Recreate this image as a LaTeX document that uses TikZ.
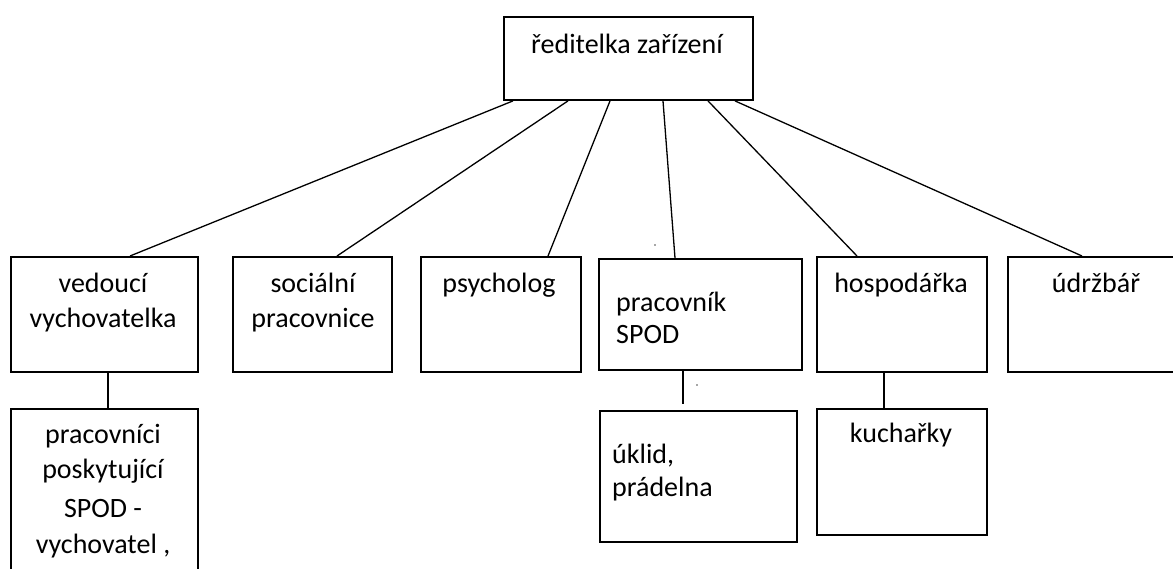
\documentclass[tikz,border=0pt]{standalone}
\usepackage{fontspec}
\setmainfont{Carlito}
\usetikzlibrary{calc}
\begin{document}
\begin{tikzpicture}[x=1pt,y=-1pt,
 box/.style={draw=black, line width=1.9pt, rectangle, inner sep=0pt, anchor=north west},
 conn/.style={draw=black, line width=1.3pt},
 txt/.style={inner sep=0pt, anchor=base, font=\fontsize{28}{35}\selectfont},
 txtl/.style={txt, anchor=base west},
 speck/.style={fill=black!70, circle, inner sep=0pt, minimum size=1.6pt}
 ]
\useasboundingbox (0,0) rectangle (1173,568);
\begin{scope}
\clip (0,0) rectangle (1173,568);
% boxes
\node[box, minimum width=249pt, minimum height=83pt] (top) at (503,16) {};
\node[box, minimum width=187pt, minimum height=115pt] (ved) at (10,256) {};
\node[box, minimum width=159pt, minimum height=115pt] (soc) at (232,256) {};
\node[box, minimum width=160pt, minimum height=115pt] (psy) at (420,256) {};
\node[box, minimum width=203pt, minimum height=111pt] (spod) at (598,258) {};
\node[box, minimum width=170pt, minimum height=115pt] (hosp) at (816,256) {};
\node[box, minimum width=200pt, minimum height=115pt] (udr) at (1007,256) {};
\node[box, minimum width=187pt, minimum height=200pt] (prac) at (10,408) {};
\node[box, minimum width=197pt, minimum height=131pt] (ukl) at (599,410) {};
\node[box, minimum width=170pt, minimum height=126pt] (kuch) at (816,408) {};
% connectors
\draw[conn] ($(top.south west)+(10,0)$) -- ($(ved.north west)+(120,0)$);
\draw[conn] ($(top.south west)+(65,0)$) -- ($(soc.north west)+(105,0)$);
\draw[conn] ($(top.south west)+(107,0)$) -- ($(psy.north west)+(128,0)$);
\draw[conn] ($(top.south west)+(160,0)$) -- ($(spod.north west)+(77,0)$);
\draw[conn] ($(top.south west)+(205,0)$) -- ($(hosp.north west)+(41,0)$);
\draw[conn] ($(top.south west)+(232,0)$) -- ($(udr.north west)+(75,0)$);
\draw[conn] ($(ved.south west)+(98,0)$) -- ($(prac.north west)+(98,0)$);
\draw[conn] ($(spod.south west)+(85,0)$) -- ($(ukl.north west)+(84,-6)$);
\draw[conn] ($(hosp.south west)+(68,0)$) -- ($(kuch.north west)+(68,0)$);
% texts
\node[txt] (t0) at (627,53) {ředitelka zařízení};
\node[txt] (t1a) at (103,292) {vedoucí};
\node[txt] (t1b) at (103,327) {vychovatelka};
\node[txt] (t2a) at (313,292) {sociální};
\node[txt] (t2b) at (313,327) {pracovnice};
\node[txt] (t3) at (499,292) {psycholog};
\node[txtl] (t4a) at (616,311) {pracovník};
\node[txtl] (t4b) at (616,343) {SPOD};
\node[txt] (t5) at (901,292) {hospodářka};
\node[txt] (t6) at (1096,292) {údržbář};
\node[txt] (t7a) at (103,443) {pracovníci};
\node[txt] (t7b) at (103,478) {poskytující};
\node[txt] (t7c) at (103,517) {SPOD -};
\node[txt] (t7d) at (103,553) {vychovatel ,};
\node[txtl] (t8a) at (612,463) {úklid,};
\node[txtl] (t8b) at (612,496) {prádelna};
\node[txt] (t9) at (901,442) {kuchařky};
% specks
\node[speck] (s1) at (655,245) {};
\node[speck] (s2) at (697,385) {};
\end{scope}
\end{tikzpicture}
\end{document}
